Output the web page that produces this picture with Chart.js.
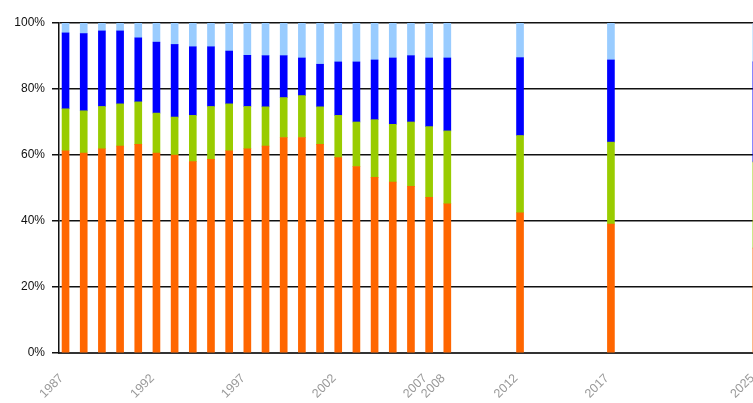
<!DOCTYPE html>
<html>
<head>
<meta charset="utf-8">
<script src="https://cdn.jsdelivr.net/npm/chart.js@4/dist/chart.umd.min.js"></script>
<style>
  html, body { margin: 0; padding: 0; background: #fff; overflow: hidden; }
  #wrap { width: 760px; height: 403px; position: relative; }
  canvas { display: block; }
</style>
</head>
<body>
<div id="wrap"><canvas id="c" width="760" height="403" style="width:760px;height:403px"></canvas></div>
<script>
const years = [1987,1988,1989,1990,1991,1992,1993,1994,1995,1996,1997,1998,1999,2000,2001,2002,2003,2004,2005,2006,2007,2008,2012,2017,2025];
const orangeShare = [61.3,60.6,61.9,62.7,63.2,60.6,60.0,58.0,58.7,61.3,61.9,62.7,65.3,65.3,63.2,59.2,56.5,53.2,51.8,50.5,47.2,45.2,42.5,39.1,31.8];
const greenShare  = [12.7,12.8,12.8,12.8,12.9,12.1,11.5,14.0,16.0,14.2,12.8,11.9,12.1,12.7,11.4,12.8,13.5,17.5,17.5,19.5,21.4,22.1,23.4,24.8,26.1];
const blueShare   = [23.0,23.4,22.9,22.1,19.4,21.5,22.0,20.8,18.1,16.0,15.5,15.5,12.7,11.4,12.9,16.2,18.2,18.1,20.1,20.1,20.8,22.1,23.6,24.9,30.3];
const lightShare  = [3.0,3.2,2.4,2.4,4.5,5.8,6.5,7.2,7.2,8.5,9.8,9.9,9.9,10.6,12.5,11.8,11.8,11.2,10.6,9.9,10.6,10.6,10.5,11.2,11.8];
const xTickYears = [1987,1992,1997,2002,2007,2008,2012,2017,2025];
const yTicks = [0,20,40,60,80,100];

function pts(arr){ return years.map((y,i)=>({x:y, y:arr[i]})); }

const common = { barThickness: 7, borderWidth: 0 };
new Chart(document.getElementById('c'), {
  type: 'bar',
  data: {
    datasets: [
      Object.assign({ label: 'a', data: pts(orangeShare), backgroundColor: '#FF6600' }, common),
      Object.assign({ label: 'b', data: pts(greenShare),  backgroundColor: '#99CC00' }, common),
      Object.assign({ label: 'c', data: pts(blueShare),   backgroundColor: '#0000FF' }, common),
      Object.assign({ label: 'd', data: pts(lightShare),  backgroundColor: '#99CCFF' }, common)
    ]
  },
  options: {
    responsive: false,
    devicePixelRatio: 1,
    animation: false,
    layout: { padding: { top: 23, right: 0, left: 0, bottom: 0 } },
    plugins: { legend: { display: false }, tooltip: { enabled: false } },
    scales: {
      x: {
        type: 'linear',
        stacked: true,
        min: 1986.64,
        max: 2025.2,
        offset: false,
        grid: { display: false },
        border: { display: true, color: '#333', width: 2 },
        afterBuildTicks: (s) => { s.ticks = xTickYears.map(v => ({ value: v })); },
        afterFit: (s) => { s.height = 50; s.paddingRight = 0; s.paddingLeft = 0; },
        ticks: {
          autoSkip: false,
          maxRotation: 45,
          minRotation: 45,
          padding: 10,
          labelOffset: -4,
          color: '#999',
          font: { family: 'Liberation Sans', size: 12.5 },
          callback: (v) => String(v)
        }
      },
      y: {
        stacked: true,
        min: 0,
        max: 100,
        afterBuildTicks: (s) => { s.ticks = yTicks.map(v => ({ value: v })); },
        afterFit: (s) => { s.width = 59; },
        grid: { color: '#111', lineWidth: 1.5, tickLength: 7, drawTicks: true },
        border: { display: true, color: '#111', width: 1.5 },
        ticks: {
          padding: 7,
          color: '#111',
          font: { family: 'Liberation Sans', size: 12 },
          callback: (v) => v + '%'
        }
      }
    }
  }
});
</script>
</body>
</html>
